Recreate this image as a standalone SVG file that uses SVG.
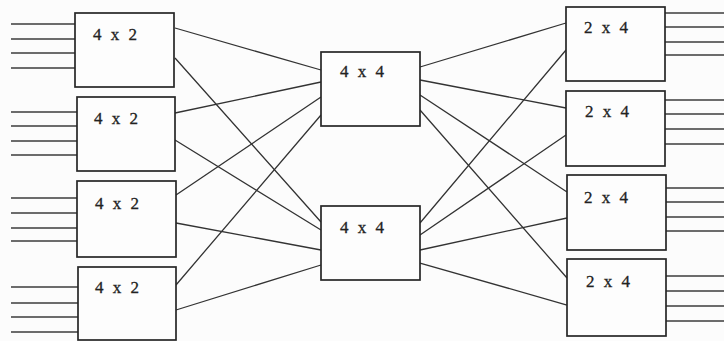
<svg xmlns="http://www.w3.org/2000/svg" width="724" height="341" viewBox="0 0 724 341">
<style>
.box{fill:#fdfdfd;stroke:#262626;stroke-width:1.7}
.lbl{font-family:"Liberation Serif","Times New Roman",serif;font-size:17px;fill:#222;stroke:#222;stroke-width:0.3;letter-spacing:2.5px}
.w{stroke:#333;stroke-width:1.3;fill:none}
.io{stroke:#3c3c3c;stroke-width:1.4;fill:none}
</style>
<rect width="724" height="341" fill="#fcfcfc"/>
<g id="connectors">
<path class="io" d="M11 24H75M11 39H75M11 53H75M11 68H75M11 112H77M11 126H77M11 141H77M11 155H77M11 198H77M11 213H77M11 228H77M11 241H77M11 287H78M11 303H78M11 317H78M11 332H78"/>
<path class="io" d="M665 13H724M665 27H724M665 42H724M665 55H724M665 100H724M665 114H724M665 129H724M665 144H724M666 188H724M666 202H724M666 217H724M666 231H724M666 276H724M666 291H724M666 306H724M666 321H724"/>
<path class="w" d="M175 28L321 70M175 113L321 82M176 195L321 97M176 285L321 115"/>
<path class="w" d="M175 58L321 222M175 140L321 230M176 223L321 250M176 310L321 265"/>
<path class="w" d="M420 67L566 23M420 80L566 108M420 95L567 192M420 110L567 278"/>
<path class="w" d="M420 223L566 50M420 235L566 135M420 250L567 218M420 263L567 305"/>
</g>
<g id="left1"><rect class="box" x="75" y="13" width="99" height="74"/><text class="lbl" x="93" y="40">4 x 2</text></g>
<g id="left2"><rect class="box" x="77" y="97" width="98" height="74"/><text class="lbl" x="94" y="124">4 x 2</text></g>
<g id="left3"><rect class="box" x="77" y="181" width="99" height="76"/><text class="lbl" x="95" y="209">4 x 2</text></g>
<g id="left4"><rect class="box" x="78" y="267" width="98" height="73"/><text class="lbl" x="95" y="293">4 x 2</text></g>
<g id="mid1"><rect class="box" x="321" y="52" width="99" height="74"/><text class="lbl" x="340" y="77">4 x 4</text></g>
<g id="mid2"><rect class="box" x="321" y="206" width="99" height="74"/><text class="lbl" x="340" y="233">4 x 4</text></g>
<g id="right1"><rect class="box" x="566" y="7" width="99" height="74"/><text class="lbl" x="584" y="33">2 x 4</text></g>
<g id="right2"><rect class="box" x="566" y="91" width="99" height="75"/><text class="lbl" x="585" y="117">2 x 4</text></g>
<g id="right3"><rect class="box" x="567" y="175" width="99" height="75"/><text class="lbl" x="584" y="203">2 x 4</text></g>
<g id="right4"><rect class="box" x="567" y="259" width="99" height="77"/><text class="lbl" x="586" y="287">2 x 4</text></g>
</svg>
